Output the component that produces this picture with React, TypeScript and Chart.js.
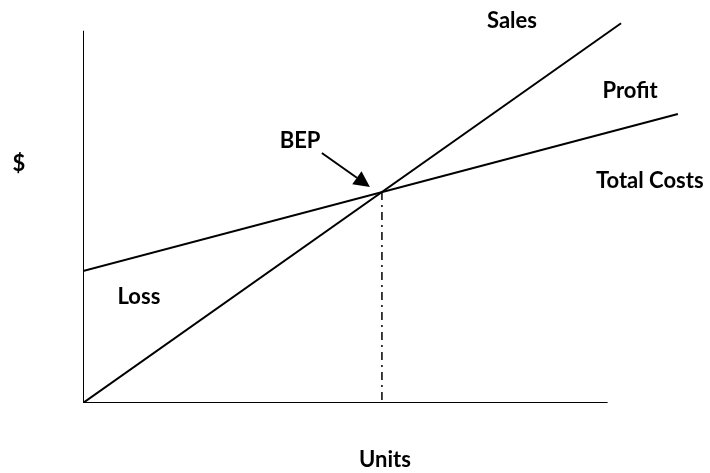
import React, { useEffect, useRef } from "react";
import { Chart, registerables } from "chart.js";

Chart.register(...registerables);

// Data (units on x, dollars on y)
const salesX = [0, 180];
const salesY = [0, 180];
const costX = [0, 199];
const costY = [62.5, 137];
const bep = [100, 100];
const xAxisEnd = 175.5;
const yAxisEnd = 176.5;

const labelTexts = ["Sales", "Profit", "Total Costs", "BEP", "Loss"];
const labelX = [143.5, 183, 189.6, 72.6, 18.7];
const labelY = [181, 147.9, 105.2, 124.2, 50.2];
const yTitle = "$";
const xTitle = "Units";

const FONT = "bold 22px Lato, 'Open Sans', sans-serif";

const pts = (xs: number[], ys: number[]) => xs.map((x, i) => ({ x, y: ys[i] }));

const annotPlugin = {
  id: "annot",
  afterDatasetsDraw(chart: any) {
    const { ctx, scales } = chart;
    const xs = scales.x;
    const ys = scales.y;
    ctx.save();
    ctx.fillStyle = "#000";
    ctx.font = FONT;
    ctx.textAlign = "center";
    ctx.textBaseline = "middle";
    labelTexts.forEach((t, i) => {
      ctx.fillText(t, xs.getPixelForValue(labelX[i]), ys.getPixelForValue(labelY[i]));
    });
    ctx.fillText(yTitle, 19, ys.getPixelForValue(113.3));
    ctx.fillText(xTitle, xs.getPixelForValue(101), ys.getPixelForValue(-27));

    // arrow to BEP
    const x0 = xs.getPixelForValue(79.9);
    const y0 = ys.getPixelForValue(118.5);
    const x1 = xs.getPixelForValue(bep[0]) - 12;
    const y1 = ys.getPixelForValue(bep[1]) - 5;
    const ang = Math.atan2(y1 - y0, x1 - x0);
    const head = 16;
    const hw = 8;
    const bx = x1 - head * Math.cos(ang);
    const by = y1 - head * Math.sin(ang);
    ctx.strokeStyle = "#000";
    ctx.lineWidth = 2;
    ctx.beginPath();
    ctx.moveTo(x0, y0);
    ctx.lineTo(bx, by);
    ctx.stroke();
    ctx.beginPath();
    ctx.moveTo(x1, y1);
    ctx.lineTo(bx + hw * Math.sin(ang), by - hw * Math.cos(ang));
    ctx.lineTo(bx - hw * Math.sin(ang), by + hw * Math.cos(ang));
    ctx.closePath();
    ctx.fill();
    ctx.restore();
  },
};

export default function App() {
  const ref = useRef<HTMLCanvasElement>(null);
  useEffect(() => {
    if (!ref.current) return;
    const base = {
      borderColor: "#000",
      borderWidth: 2,
      pointRadius: 0,
      showLine: true,
      fill: false,
      tension: 0,
    };
    const chart = new Chart(ref.current, {
      type: "scatter",
      data: {
        datasets: [
          { ...base, label: "Y axis", data: pts([0, 0], [0, yAxisEnd]) },
          { ...base, label: "X axis", data: pts([0, xAxisEnd], [0, 0]) },
          { ...base, label: "Sales", data: pts(salesX, salesY) },
          { ...base, label: "Total Costs", data: pts(costX, costY) },
          {
            ...base,
            label: "BEP",
            borderWidth: 1.5,
            borderDash: [8, 5, 2, 5],
            data: pts([bep[0], bep[0]], [bep[1], 0]),
          },
        ],
      },
      options: {
        responsive: false,
        animation: false,
        layout: { padding: { left: 83, right: 10, top: 10, bottom: 70 } },
        plugins: { legend: { display: false }, tooltip: { enabled: false } },
        scales: {
          x: { type: "linear", display: false, min: 0, max: 206.4 },
          y: { type: "linear", display: false, min: 0, max: 186.3 },
        },
      },
      plugins: [annotPlugin],
    } as any);
    return () => chart.destroy();
  }, []);
  return (
    <div style={{ position: "fixed", left: 0, top: 0, width: 710, height: 473, background: "#fff" }}>
      <canvas ref={ref} width={710} height={473} />
    </div>
  );
}
